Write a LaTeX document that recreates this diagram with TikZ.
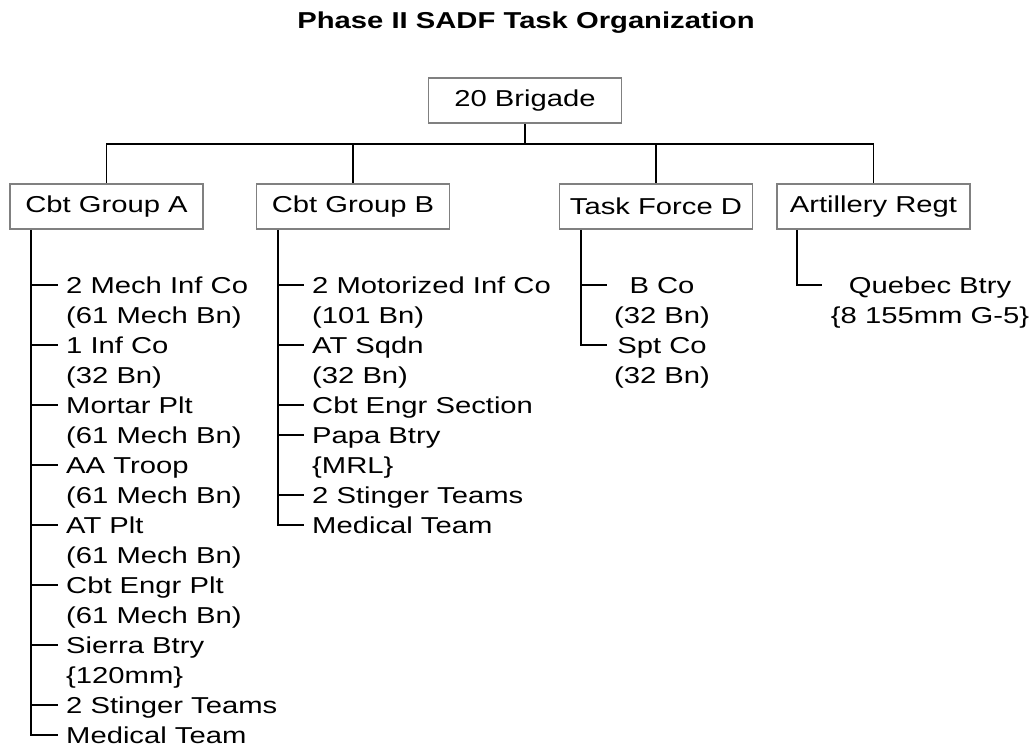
\documentclass[tikz,border=0pt]{standalone}
\usepackage{fontspec}
\setmainfont{Liberation Sans}[FakeStretch=1.27]
\usepackage{tikz}
\usetikzlibrary{positioning}

\begin{document}
\begin{tikzpicture}
            [x=1pt, y=-1pt, font=\fontsize{23}{30}\selectfont,
              box/.style={draw=gray, line width=1.5pt, fill=white,
                inner sep=0pt, minimum width=193pt, minimum height=45pt},
              itm/.style={anchor=west, inner xsep=8pt, inner ysep=0pt,
                text height=16.5pt, text depth=0pt},
              ctr/.style={itm, anchor=center, minimum width=#1},
              ln/.style={draw=black, line width=1.8pt}]
            \useasboundingbox (0,0) rectangle (1034,744);
            \node[anchor=base, font=\fontsize{23}{30}\selectfont\bfseries]
              (ttl) at (526,28) {Phase II SADF Task Organization};
            % units
            \node[box] (br) at (525,100.5) {20 Brigade};
            \node[box] (ga) at (106.5,206.5) {Cbt Group A};
            \node[box] (gb) at (353,206.5) {Cbt Group B};
            \node[box] (tf) at (656,206.5) {Task Force D};
            \node[box] (ar) at (873.5,206.5) {Artillery Regt};
            \coordinate (bar) at (525,144);
            \coordinate (ta) at ([xshift=22pt]ga.south west);
            \coordinate (tb) at ([xshift=22pt]gb.south west);
            \coordinate (td) at ([xshift=22pt]tf.south west);
            \coordinate (tr) at ([xshift=21pt]ar.south west);
            % Cbt Group A
            \node[itm] (a1) at (58,285) {2 Mech Inf Co};
            \node[itm] (a1p) at (58,315) {(61 Mech Bn)};
            \node[itm] (a2) at (58,345) {1 Inf Co};
            \node[itm] (a2p) at (58,375) {(32 Bn)};
            \node[itm] (a3) at (58,405) {Mortar Plt};
            \node[itm] (a3p) at (58,435) {(61 Mech Bn)};
            \node[itm] (a4) at (58,465) {AA Troop};
            \node[itm] (a4p) at (58,495) {(61 Mech Bn)};
            \node[itm] (a5) at (58,525) {AT Plt};
            \node[itm] (a5p) at (58,555) {(61 Mech Bn)};
            \node[itm] (a6) at (58,585) {Cbt Engr Plt};
            \node[itm] (a6p) at (58,615) {(61 Mech Bn)};
            \node[itm] (a7) at (58,645) {Sierra Btry};
            \node[itm] (a7p) at (58,675) {\{120mm\}};
            \node[itm] (a8) at (58,705) {2 Stinger Teams};
            \node[itm] (a9) at (58,735) {Medical Team};
            % Cbt Group B
            \node[itm] (b1) at (304,285) {2 Motorized Inf Co};
            \node[itm] (b1p) at (304,315) {(101 Bn)};
            \node[itm] (b2) at (304,345) {AT Sqdn};
            \node[itm] (b2p) at (304,375) {(32 Bn)};
            \node[itm] (b3) at (304,405) {Cbt Engr Section};
            \node[itm] (b4) at (304,435) {Papa Btry};
            \node[itm] (b4p) at (304,465) {\{MRL\}};
            \node[itm] (b5) at (304,495) {2 Stinger Teams};
            \node[itm] (b6) at (304,525) {Medical Team};
            % Task Force D and Artillery Regt
            \node[ctr=110pt] (d1) at (662,285) {B Co};
            \node[ctr=110pt] (d1p) at (662,315) {(32 Bn)};
            \node[ctr=110pt] (d2) at (662,345) {Spt Co};
            \node[ctr=110pt] (d2p) at (662,375) {(32 Bn)};
            \node[ctr=216pt] (q1) at (930,285) {Quebec Btry};
            \node[ctr=216pt] (q1p) at (930,315) {\{8 155mm G-5\}};
            % links
            \draw[ln] (br) -- (bar);
            \draw[ln] (bar) -| (ga);
            \draw[ln] (bar) -| (gb);
            \draw[ln] (bar) -| (tf);
            \draw[ln] (bar) -| (ar);
            \draw[ln] (ta) |- (a9.west);
            \draw[ln] (a1.west -| ta) -- (a1.west);
            \draw[ln] (a2.west -| ta) -- (a2.west);
            \draw[ln] (a3.west -| ta) -- (a3.west);
            \draw[ln] (a4.west -| ta) -- (a4.west);
            \draw[ln] (a5.west -| ta) -- (a5.west);
            \draw[ln] (a6.west -| ta) -- (a6.west);
            \draw[ln] (a7.west -| ta) -- (a7.west);
            \draw[ln] (a8.west -| ta) -- (a8.west);
            \draw[ln] (tb) |- (b6.west);
            \draw[ln] (b1.west -| tb) -- (b1.west);
            \draw[ln] (b2.west -| tb) -- (b2.west);
            \draw[ln] (b3.west -| tb) -- (b3.west);
            \draw[ln] (b4.west -| tb) -- (b4.west);
            \draw[ln] (b5.west -| tb) -- (b5.west);
            \draw[ln] (td) |- (d2.west);
            \draw[ln] (d1.west -| td) -- (d1.west);
            \draw[ln] (tr) |- (q1.west);
        \end{tikzpicture}
\end{document}
